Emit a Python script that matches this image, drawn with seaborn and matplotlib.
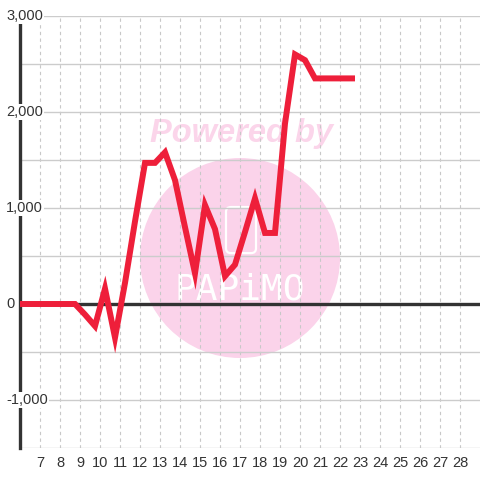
import numpy as np
import pandas as pd
import matplotlib
matplotlib.use("Agg")
import matplotlib.pyplot as plt
import seaborn as sns
from matplotlib.patches import Ellipse, FancyBboxPatch

# values, half-step x positions
x_vals = [5.75, 6.25, 6.75, 7.25, 7.75, 8.25, 8.75, 9.25, 9.75, 10.25,
          10.75, 11.25, 11.75, 12.25, 12.75, 13.25, 13.75, 14.25, 14.75, 15.25,
          15.75, 16.25, 16.75, 17.25, 17.75, 18.25, 18.75, 19.25, 19.75, 20.25,
          20.75, 21.25, 21.75, 22.25, 22.75]
y_vals = [0, 0, 0, 0, 0, 0, 0, -110, -230, 160,
          -350, 220, 860, 1470, 1470, 1580, 1290, 800, 320, 1030,
          780, 290, 410, 750, 1100, 740, 740, 1880, 2600, 2540,
          2350, 2350, 2350, 2350, 2350]
x_ticks = list(range(7, 29))
y_labels = [3000, 2000, 1000, 0, -1000]

df = pd.DataFrame({"x": x_vals, "y": y_vals})

sns.set_theme(style="white")
plt.rcParams['font.family'] = ['Liberation Sans', 'DejaVu Sans']

fig = plt.figure(figsize=(4.8, 4.8), dpi=100)
ax = fig.add_axes([20 / 480, 32 / 480, 460 / 480, 432 / 480])

ax.set_xlim(6, 29)
ax.set_ylim(-1500, 3000)
ax.set_axisbelow(True)

# watermark
ax.add_patch(Ellipse((17, 479), 10, 2083, color="#fbd3ea", zorder=0.1, lw=0))
ax.add_patch(FancyBboxPatch((16.3, 530), 1.5, 480, boxstyle="round,pad=0,rounding_size=0.25",
                            fill=False, ec="white", lw=1.6, zorder=0.2,
                            mutation_aspect=200))
ax.text(17, 150, "PAPiMO", ha="center", va="center", color="white",
        fontsize=26, family="DejaVu Sans Mono", zorder=0.2)
ax.text(17.1, 1771, "Powered by", ha="center", va="center", color="#fbd5ea",
        fontsize=23.5, fontweight="bold", fontstyle="italic",
        family=["Liberation Sans"], zorder=0.2)

sns.lineplot(data=df, x="x", y="y", ax=ax, color="#ee1f3a", lw=4.3,
             solid_joinstyle="miter", solid_capstyle="butt", zorder=5)

ax.axhline(0, color="#333333", lw=2.4, zorder=3)

ax.set_yticks(np.arange(-1500, 3001, 500))
ax.set_yticklabels([])
ax.set_xticks(x_ticks)
ax.set_xticklabels([str(t) for t in x_ticks], color="#333333", fontsize=10.5)
ax.tick_params(axis="both", length=0)
ax.tick_params(axis="x", pad=6)
ax.grid(axis="y", color="#cccccc", lw=1, linestyle="-")
ax.grid(axis="x", color="#c8c8c8", lw=0.8, linestyle=(0, (3, 3)))

for s in ["top", "right", "bottom"]:
    ax.spines[s].set_visible(False)
ax.spines["left"].set_color("#333333")
ax.spines["left"].set_linewidth(2.4)

trans = ax.get_yaxis_transform()
for v in y_labels:
    ax.text(-14 / 460, v, f"{v:,}", transform=trans, ha="left", va="center",
            color="#333333", fontsize=10.5, clip_on=False, zorder=6,
            bbox=dict(fc="white", ec="none", pad=1))

ax.set_xlabel("")
ax.set_ylabel("")
fig.savefig("out.png", dpi=100)
